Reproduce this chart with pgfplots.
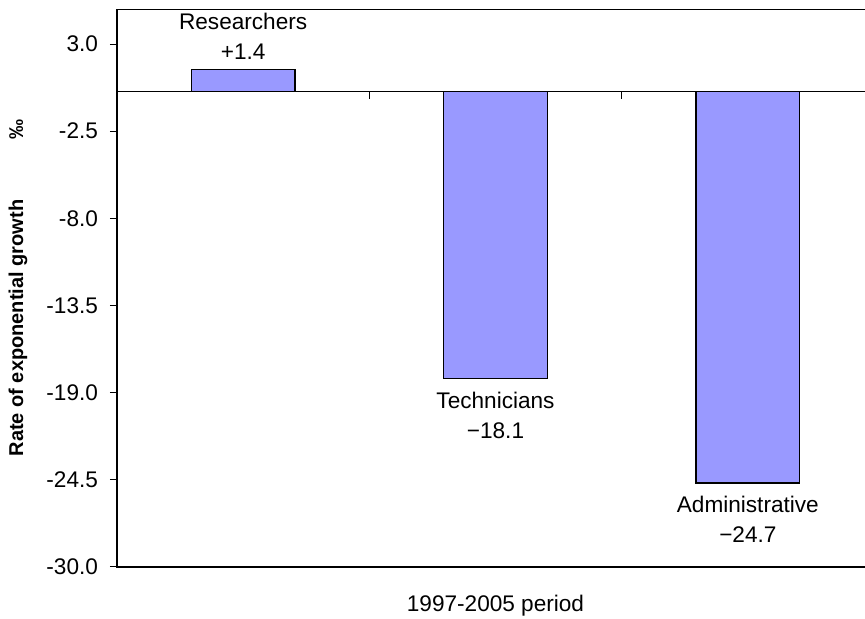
\documentclass[border=0pt]{standalone}
\usepackage{fontspec}
\setmainfont{Liberation Sans}
\usepackage{pgfplots}
\pgfplotsset{compat=1.18}
\definecolor{barfill}{RGB}{153,153,255}
\begin{document}
\begin{tikzpicture}
\begin{axis}[
  at={(58.5pt,26pt)}, anchor=south west,
  scale only axis,
  width=378.5pt, height=278.9pt,
  xmin=-0.5, xmax=2.5,
  ymin=-30, ymax=5.2,
  axis line style={black, line width=0.6pt},
  xtick=\empty,
  ytick={-30,-24.5,-19,-13.5,-8,-2.5,3},
  yticklabels={-30.0,-24.5,-19.0,-13.5,-8.0,-2.5,3.0},
  ytick pos=left,
  tick align=outside,
  major tick length=3.5pt,
  tick style={black, line width=0.5pt},
  yticklabel style={font=\fontsize{11.3}{13}\selectfont, xshift=-2.5pt},
  xlabel={1997-2005 period},
  xlabel style={font=\fontsize{11.3}{13}\selectfont, at={(axis description cs:0.5,-0.07)}, anchor=center},
  ylabel={Rate of exponential growth\hspace{30pt}‰},
  ylabel style={font=\fontsize{10}{12}\selectfont\bfseries, at={(axis description cs:-0.1308,0.5)}, anchor=center},
  extra y ticks={0},
  extra y tick labels={},
  extra y tick style={grid=major, major grid style={black, line width=0.5pt}, major tick length=0pt},
  clip=false,
]
\addplot[ybar, bar width=0.41, fill=barfill, draw=black, line width=0.7pt]
  coordinates {(0,1.4) (1,-18.1) (2,-24.7)};
\draw[black, line width=0.5pt] (axis cs:0.5,0) -- ([yshift=-3.5pt]axis cs:0.5,0);
\draw[black, line width=0.5pt] (axis cs:1.5,0) -- ([yshift=-3.5pt]axis cs:1.5,0);
\node[anchor=south, align=center, inner sep=0pt, yshift=5pt, font=\fontsize{11.3}{15}\selectfont] at (axis cs:0,1.4) {Researchers\\+1.4};
\node[anchor=north, align=center, inner sep=0pt, yshift=-6.5pt, font=\fontsize{11.3}{15}\selectfont] at (axis cs:1,-18.1) {Technicians\\−18.1};
\node[anchor=north, align=center, inner sep=0pt, yshift=-6.5pt, font=\fontsize{11.3}{15}\selectfont] at (axis cs:2,-24.7) {Administrative\\−24.7};
\end{axis}
\pgfresetboundingbox
\useasboundingbox (0,0) rectangle (432.5pt,309.5pt);
\end{tikzpicture}
\end{document}
